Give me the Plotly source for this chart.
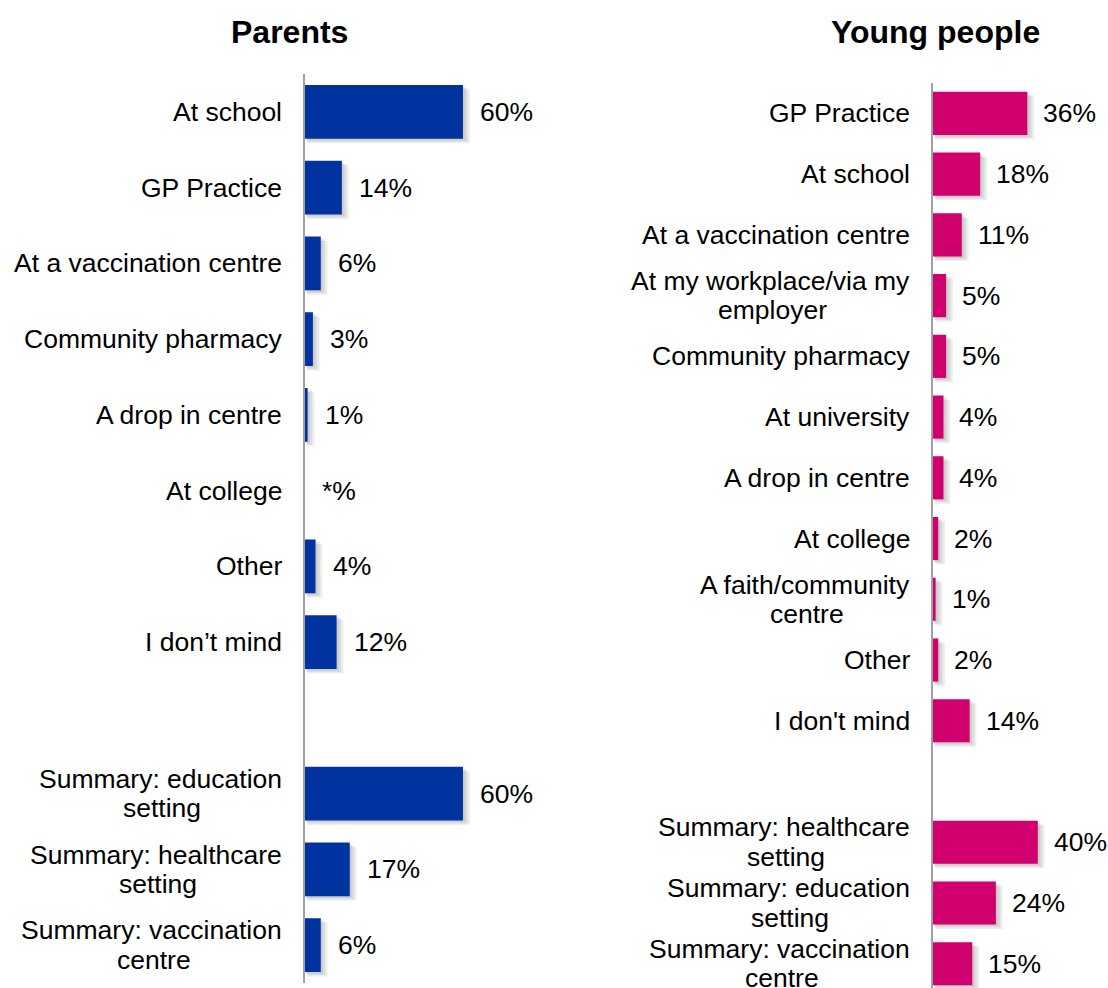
import plotly.graph_objects as go

# ---- data ----
parent_categories = [
    "At school", "GP Practice", "At a vaccination centre", "Community pharmacy",
    "A drop in centre", "At college", "Other", "I don’t mind", " ",
    "Summary: education<br>setting", "Summary: healthcare<br>setting",
    "Summary: vaccination<br>centre",
]
parent_values = [60, 14, 6, 3, 1, 0, 4, 12, None, 60, 17, 6]
parent_labels = ["60%", "14%", "6%", "3%", "1%", "*%", "4%", "12%", "",
                 "60%", "17%", "6%"]

young_categories = [
    "GP Practice", "At school", "At a vaccination centre",
    "At my workplace/via my<br>employer", "Community pharmacy", "At university",
    "A drop in centre", "At college", "A faith/community<br>centre", "Other",
    "I don't mind", " ", "Summary: healthcare<br>setting",
    "Summary: education<br>setting", "Summary: vaccination<br>centre",
]
young_values = [36, 18, 11, 5, 5, 4, 4, 2, 1, 2, 14, None, 40, 24, 15]
young_labels = ["36%", "18%", "11%", "5%", "5%", "4%", "4%", "2%", "1%", "2%",
                "14%", "", "40%", "24%", "15%"]

PARENT_COLOR = "#0033A0"
YOUNG_COLOR = "#D0006F"
FONT = "Liberation Sans, Arial, sans-serif"
TEXT_SIZE = 26.5
LINE_GAP = 29.5
W, H = 1108, 988
BAR_W = 0.71

# Arial / Liberation Sans advance widths (1/1000 em), used to centre
# wrapped second lines beneath right-aligned first lines
ADV = {
    " ": 278, ":": 278, "/": 278, "A": 667, "S": 667, "a": 556, "b": 556,
    "c": 500, "d": 556, "e": 556, "f": 278, "g": 556, "h": 556, "i": 222,
    "k": 500, "l": 222, "m": 833, "n": 556, "o": 556, "p": 556, "r": 333,
    "s": 500, "t": 278, "u": 556, "v": 500, "w": 722, "y": 500,
}


def text_width(s, size):
    return sum(ADV.get(ch, 556) for ch in s) * size / 1000.0


fig = go.Figure()


def add_panel(cats, vals, color, xa, ya, px_per_unit_y, px_per_unit_x):
    idx = list(range(len(cats)))
    # soft drop shadow built from a few translucent layers
    for k in (1.5, 3.0, 4.5):
        dy = k / px_per_unit_y
        dx = k / px_per_unit_x
        sx = [None if (v is None or v == 0) else v + dx for v in vals]
        fig.add_trace(go.Bar(
            y=idx, x=sx, base=dx * 0.5, orientation="h",
            width=BAR_W, offset=-BAR_W / 2 + dy,
            marker=dict(color="rgba(0,0,0,0.07)", line=dict(width=0)),
            xaxis=xa, yaxis=ya, hoverinfo="skip", showlegend=False,
        ))
    fig.add_trace(go.Bar(
        y=idx, x=vals, orientation="h", width=BAR_W, offset=-BAR_W / 2,
        marker=dict(color=color, line=dict(width=0)),
        xaxis=xa, yaxis=ya, hoverinfo="skip", showlegend=False,
    ))


add_panel(parent_categories, parent_values, PARENT_COLOR, "x", "y", 75.75, 2.633)
add_panel(young_categories, young_values, YOUNG_COLOR, "x2", "y2", 60.7, 2.62)

annotations = []


def add_labels(cats, vals, labels, xref, yref, shift, vshift):
    for i, (c, v, t) in enumerate(zip(cats, vals, labels)):
        lines = c.split("<br>")
        if c.strip():
            n = len(lines)
            first_w = text_width(lines[0], TEXT_SIZE)
            for j, line in enumerate(lines):
                if j == 0:
                    anchor, xs = "right", shift
                else:
                    anchor, xs = "center", shift - first_w / 2
                annotations.append(dict(
                    x=0, y=i, xref=xref, yref=yref, text=line, showarrow=False,
                    xanchor=anchor, yanchor="middle", xshift=xs,
                    yshift=-(j - (n - 1) / 2) * LINE_GAP,
                    font=dict(family=FONT, size=TEXT_SIZE, color="#000000"),
                ))
        if t:
            annotations.append(dict(
                x=v or 0, y=i, xref=xref, yref=yref, text=t, showarrow=False,
                xanchor="left", yanchor="middle", xshift=vshift,
                font=dict(family=FONT, size=TEXT_SIZE, color="#000000"),
            ))


add_labels(parent_categories, parent_values, parent_labels, "x", "y", -21, 15)
add_labels(young_categories, young_values, young_labels, "x2", "y2", -21, 14)

annotations.append(dict(
    x=289 / W, y=1 - 32 / H, xref="paper", yref="paper", text="<b>Parents</b>",
    showarrow=False, xanchor="center", yanchor="middle",
    font=dict(family=FONT, size=32, color="#000000"),
))
annotations.append(dict(
    x=935 / W, y=1 - 32 / H, xref="paper", yref="paper", text="<b>Young people</b>",
    showarrow=False, xanchor="center", yanchor="middle",
    font=dict(family=FONT, size=32, color="#000000"),
))

hidden_x = dict(showgrid=False, zeroline=False, showticklabels=False,
                showline=False, ticks="")
y_common = dict(showgrid=False, zeroline=False, showticklabels=False, ticks="",
                showline=True, linecolor="#A0A0A0", linewidth=2)

fig.update_layout(
    width=W, height=H,
    margin=dict(l=0, r=0, t=0, b=0),
    paper_bgcolor="white", plot_bgcolor="white",
    barmode="overlay",
    showlegend=False,
    xaxis=dict(domain=[305 / W, (305 + 80 * 2.633) / W], range=[0, 80],
               anchor="y", **hidden_x),
    yaxis=dict(domain=[1 - 983 / H, 1 - 74 / H], range=[11.5, -0.5],
               anchor="x", **y_common),
    xaxis2=dict(domain=[933 / W, (933 + 65 * 2.62) / W], range=[0, 65],
                anchor="y2", **hidden_x),
    yaxis2=dict(domain=[0, 1 - 83 / H], range=[14.4, -0.5],
                anchor="x2", **y_common),
    annotations=annotations,
)

fig.write_html("out.html")
